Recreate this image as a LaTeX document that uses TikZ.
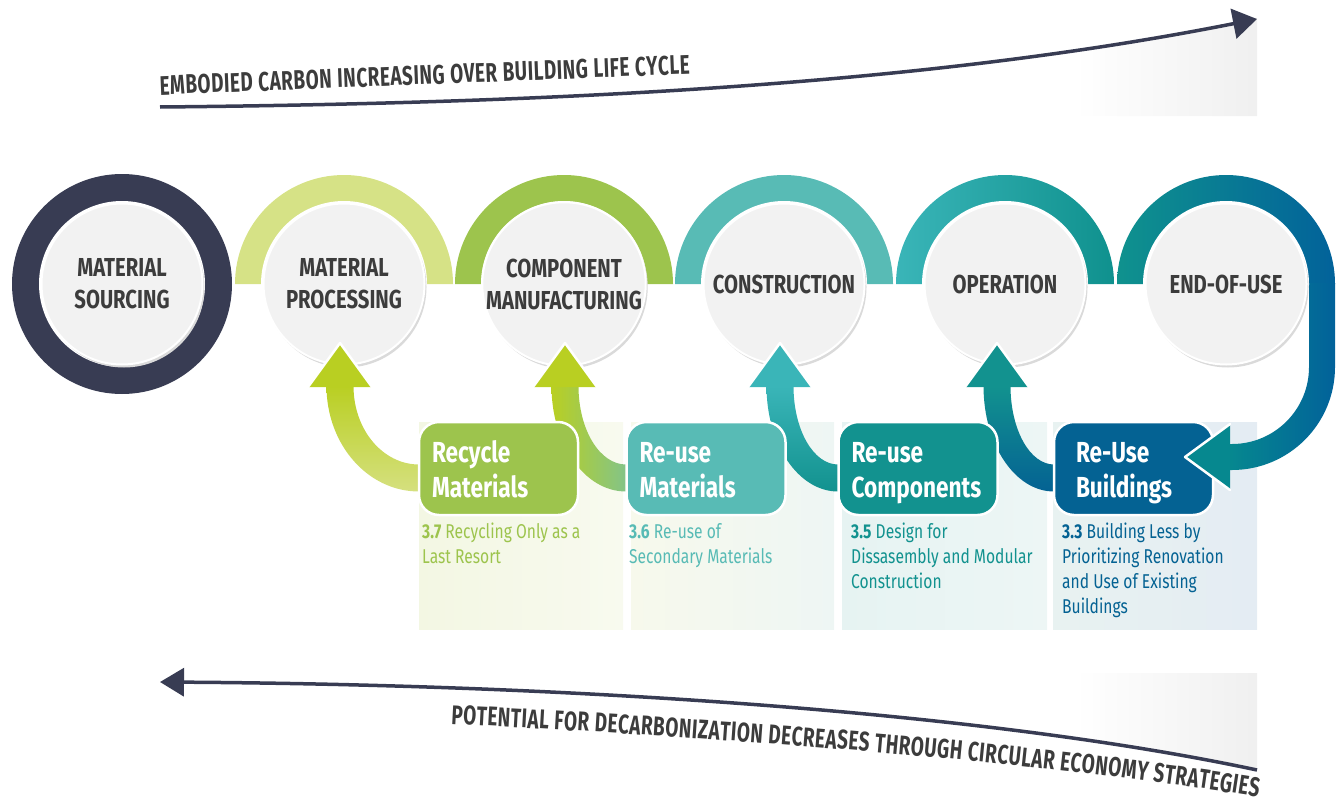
\documentclass[tikz,border=0pt]{standalone}
\usepackage{fontspec}
\newfontfamily\condfont[FakeStretch=0.78]{Fira Sans}
\newfontfamily\trendface[FakeStretch=0.70]{Fira Sans}
\usetikzlibrary{arrows.meta, shadows, decorations.text, calc}

\definecolor{navy}{HTML}{383C53}
\definecolor{labelgray}{HTML}{3C3C3C}
\definecolor{stagefill}{HTML}{F2F2F2}
\definecolor{stageshadow}{HTML}{DADADA}
\definecolor{limelight}{HTML}{D6E286}
\definecolor{leaf}{HTML}{9DC44D}
\definecolor{aqua}{HTML}{58BBB5}
\definecolor{opleft}{HTML}{3AB5B8}
\definecolor{opright}{HTML}{0F918E}
\definecolor{petrol}{HTML}{12928F}
\definecolor{eouleft}{HTML}{0F928E}
\definecolor{eouright}{HTML}{02629A}
\definecolor{ocean}{HTML}{046293}
\definecolor{lime}{HTML}{B9CF22}
\definecolor{limepale}{HTML}{D5E07F}
\definecolor{mint}{HTML}{7FC390}
\definecolor{eouhead}{HTML}{06888F}
\definecolor{paneloneL}{HTML}{F3F7E3}
\definecolor{paneloneR}{HTML}{F8FAEF}
\definecolor{paneltwoL}{HTML}{F7F9EC}
\definecolor{paneltwoR}{HTML}{EEF6F4}
\definecolor{panelthreeL}{HTML}{E6F3F2}
\definecolor{panelthreeR}{HTML}{EDF6F5}
\definecolor{panelfourL}{HTML}{E8F2F1}
\definecolor{panelfourR}{HTML}{E4ECF3}

\newcommand{\trendfont}{\trendface\bfseries\fontsize{27}{27}\selectfont}

% stem of a return arrow: #1 = x of the stem, #2 = x of the card edge
\newcommand{\tailband}[2]{({#1-13.5},-386) .. controls ({#1-13.5},{-387-0.552*104.5}) and ({#2-0.552*(#2-#1+13.5)},-491.5) .. (#2,-491.5) -- ({#2+6},-491.5) -- ({#2+6},-464.5) -- (#2,-464.5) .. controls ({#2-0.552*(#2-#1-13.5)},-464.5) and ({#1+13.5},{-387-0.552*77.5}) .. ({#1+13.5},-386) -- cycle}

% head of a return arrow pointing up at x = #1
\newcommand{\uphead}[2]{%
  \fill[#2] ({#1-32},-387) -- (#1,-343) -- ({#1+32},-387) -- cycle;
  \draw[headrim] ({#1-32},-387) -- (#1,-343) -- ({#1+32},-387);}

\tikzset{%
  stage/.style={circle, minimum size=161pt, inner sep=0pt, fill=stagefill, draw=white, line width=2pt,
    general shadow={fill=stageshadow, shadow xshift=2pt, shadow yshift=-3pt},
    align=center, text=labelgray, font=\condfont\bfseries\fontsize{26}{32}\selectfont},
  stepcard/.style={rounded corners=20pt, draw=white, line width=2.5pt, minimum width=159pt, minimum height=93pt,
    text width=133pt, inner xsep=13pt, align=left, text=white, font=\condfont\bfseries\fontsize{29}{35}\selectfont,
    execute at begin node={\rule{0pt}{30pt}}, execute at end node={\vphantom{g}}},
  desc/.style={anchor=base west, align=left, inner sep=0pt, font=\condfont\fontsize{20}{25}\selectfont},
  headrim/.style={draw=white, line width=2.5pt, line join=round, line cap=round},
  trend/.style={draw=navy, line width=3.5pt},
  trendtext/.style={decorate, decoration={text along path, text align=fit to path, text color=labelgray, text={|\trendfont|#1}}}
}

\begin{document}
\begin{tikzpicture}[x=1pt, y=1pt]
\useasboundingbox (0,0) rectangle (1340,-803);

% faded backdrops behind the arrow ends
\begin{scope}
  \clip (1075,-52) -- (1257,-18) -- (1257,-116) -- (1075,-116) -- cycle;
  \shade[left color=white, right color=black!6] (1075,-10) rectangle (1257,-116);
\end{scope}
\begin{scope}
  \clip (1075,-673) -- (1257,-673) -- (1257,-770) -- (1075,-739) -- cycle;
  \shade[left color=white, right color=black!6] (1075,-673) rectangle (1257,-780);
\end{scope}

% trend arrows
\coordinate (cs) at (160,-107);
\coordinate (ce) at (1257,-19);
\draw[trend, -{Triangle[length=24pt, width=30pt]}] (cs) .. controls (600,-103) and (950,-80) .. (ce);
\path[trendtext={EMBODIED CARBON INCREASING OVER BUILDING LIFE CYCLE}] (160,-95) -- (690,-74);

\coordinate (ps) at (1257,-770);
\coordinate (pe) at (160,-682);
\draw[trend, -{Triangle[length=24pt, width=28pt]}] (ps) .. controls (1000,-715) and (600,-685) .. (pe);
\path[trendtext={POTENTIAL FOR DECARBONIZATION DECREASES THROUGH CIRCULAR ECONOMY STRATEGIES}] (451,-724) .. controls (750,-739) and (1050,-763) .. (1257,-797);

% pale panels under the strategies
\shade[left color=paneloneL, right color=paneloneR] (419,-422) rectangle (623,-629);
\shade[left color=paneltwoL, right color=paneltwoR] (631,-422) rectangle (834,-629);
\shade[left color=panelthreeL, right color=panelthreeR] (842,-422) rectangle (1047,-629);
\shade[left color=panelfourL, right color=panelfourR] (1053,-422) rectangle (1257,-629);

% life cycle stages
\coordinate (c1) at (122,-284);
\coordinate (c2) at (344,-284);
\coordinate (c3) at (564,-284);
\coordinate (c4) at (784,-284);
\coordinate (c5) at (1005,-284);
\coordinate (c6) at (1226,-284);

\fill[navy] (c1) circle (110);
\fill[limelight] ([xshift=109pt]c2) arc[start angle=0, end angle=180, radius=109] -- cycle;
\fill[leaf] ([xshift=109pt]c3) arc[start angle=0, end angle=180, radius=109] -- cycle;
\fill[aqua] ([xshift=109pt]c4) arc[start angle=0, end angle=180, radius=109] -- cycle;
\shade[left color=opleft, right color=opright] ([xshift=109pt]c5) arc[start angle=0, end angle=180, radius=109] -- cycle;
\shade[left color=eouleft, right color=eouright] ([xshift=109pt]c6) arc[start angle=0, end angle=180, radius=109] -- cycle;
% end-of-use loop down to the buildings card
\shade[left color=eouhead, right color=eouright] (1309,-283) -- (1335,-283) -- (1335,-367) arc[start angle=0, end angle=-90, radius=103] -- (1228,-470) -- (1228,-444) -- (1232,-444) arc[start angle=-90, end angle=0, radius=77] -- cycle;

\foreach \i in {1,...,6} \fill[white] (c\i) circle (83);

\node[stage] (ms) at (c1) {MATERIAL\\SOURCING};
\node[stage] (mp) at (c2) {MATERIAL\\PROCESSING};
\node[stage] (cm) at (c3) {COMPONENT\\MANUFACTURING};
\node[stage] (con) at (c4) {CONSTRUCTION};
\node[stage] (op) at (c5) {OPERATION};
\node[stage] (eou) at (c6) {END-OF-USE};

% return arrows
\shade[top color=lime, bottom color=limepale] \tailband{340}{419};
\uphead{340}{lime}
\shade[left color=lime, right color=mint] \tailband{565}{626};
\uphead{565}{lime}
\shade[top color=opleft, bottom color=petrol] \tailband{780}{838};
\uphead{780}{opleft}
\shade[top color=petrol, bottom color=ocean] \tailband{997}{1054};
\uphead{997}{petrol}

% strategy cards
\node[stepcard, fill=leaf] (rcm) at (498.5,-468.5) {Recycle\\Materials};
\node[stepcard, fill=aqua] (rum) at (706,-468.5) {Re-use\\Materials};
\node[stepcard, fill=petrol] (ruc) at (918,-468.5) {Re-use\\Components};
\node[stepcard, fill=ocean, text width=115pt, inner xsep=22pt] (rub) at (1133.5,-468.5) {Re-Use\\Buildings};

\fill[eouhead] (1230,-424) -- (1185,-457) -- (1230,-490) -- cycle;
\draw[headrim] (1230,-424) -- (1185,-457) -- (1230,-490);

% strategy references (placed at the baseline of their last line)
\node[desc, text=leaf] (d37) at (422,-563) {\textbf{3.7} Recycling Only as a\\Last Resort};
\node[desc, text=aqua] (d36) at (629,-563) {\textbf{3.6} Re-use of\\Secondary Materials};
\node[desc, text=petrol] (d35) at (851,-588) {\textbf{3.5} Design for\\Dissasembly and Modular\\Construction};
\node[desc, text=ocean] (d33) at (1062,-613) {\textbf{3.3} Building Less by\\Prioritizing Renovation\\and Use of Existing\\Buildings};

\end{tikzpicture}
\end{document}
